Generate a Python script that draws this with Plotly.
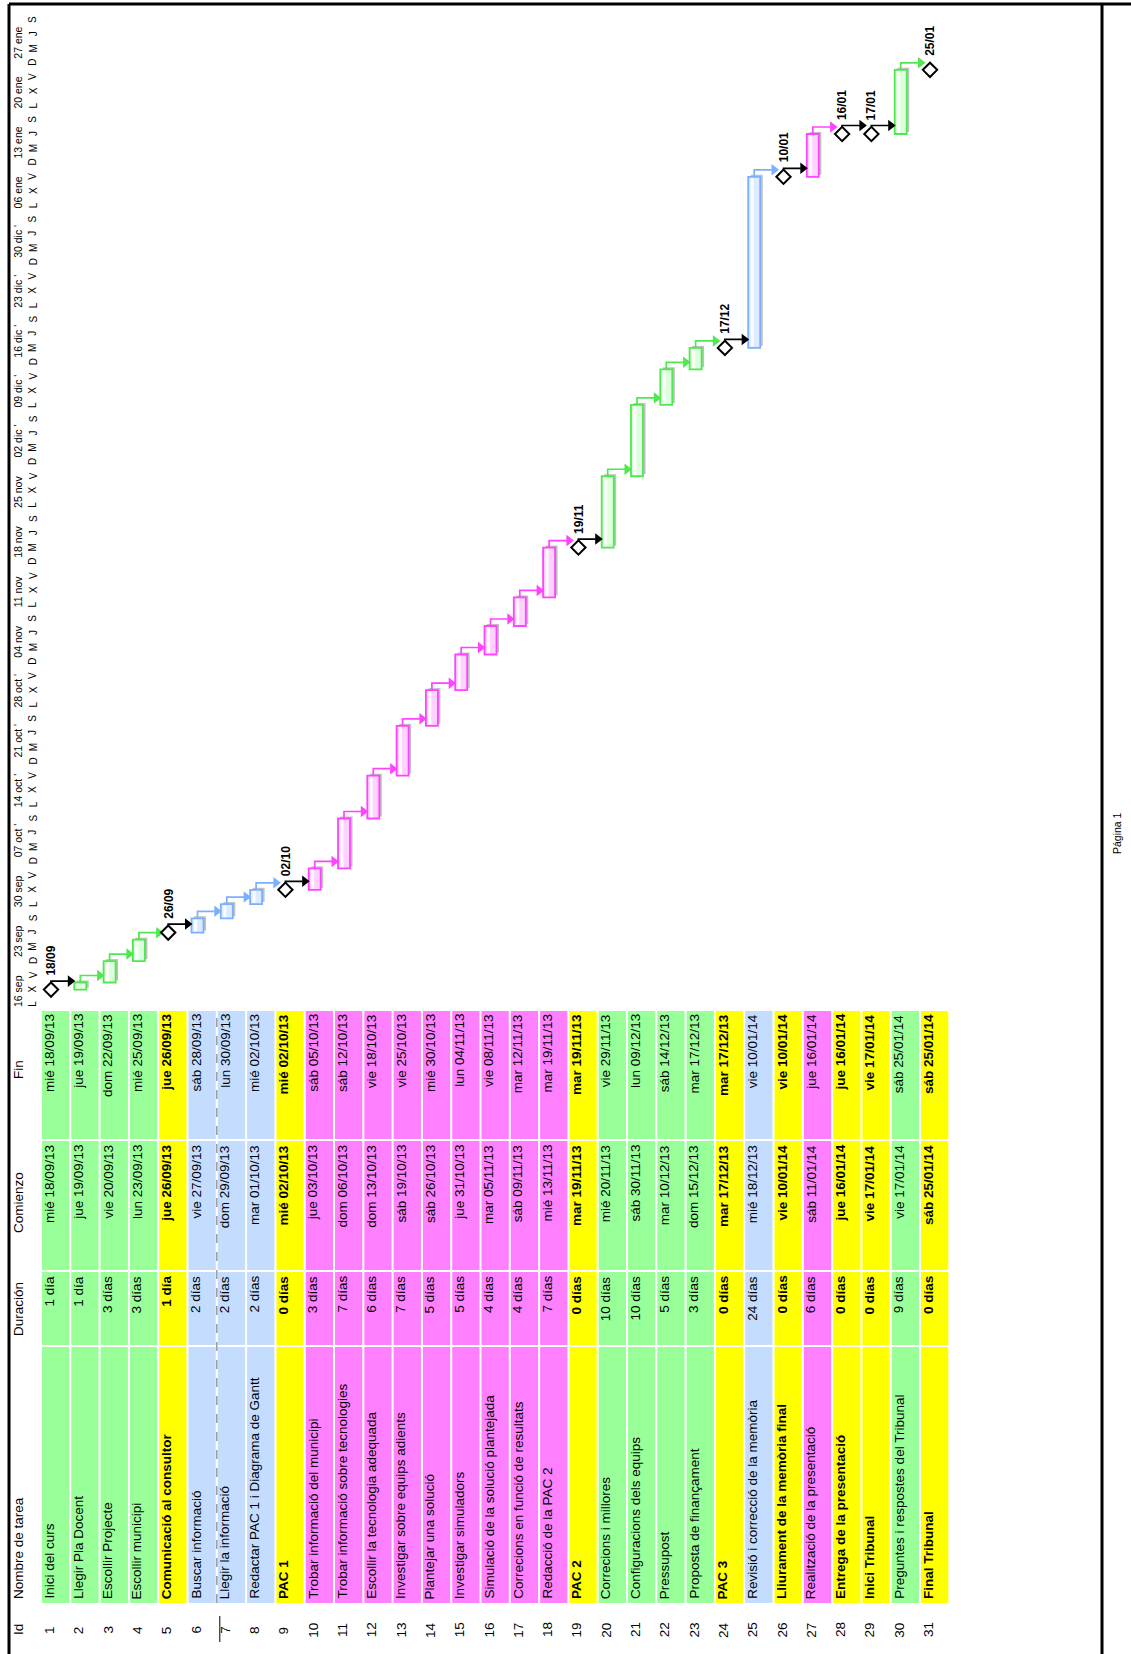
import pandas as pd
import plotly.graph_objects as go

# ---------------- project data ----------------
task_ids = list(range(1, 32))
task_names = [
    "Inici del curs", "Llegir Pla Docent", "Escollir Projecte", "Escollir municipi",
    "Comunicació al consultor", "Buscar informació", "Llegir la informació",
    "Redactar PAC 1 i Diagrama de Gantt", "PAC 1", "Trobar informació del municipi",
    "Trobar informació sobre tecnologies", "Escollir la tecnologia adequada",
    "Investigar sobre equips adients", "Plantejar una solució", "Investigar simuladors",
    "Simulació de la solució plantejada", "Correcions en funció de resultats",
    "Redacció de la PAC 2", "PAC 2", "Correcions i millores", "Configuracions dels equips",
    "Pressupost", "Proposta de finançament", "PAC 3", "Revisió i correcció de la memòria",
    "Lliurament de la memòria final", "Realització de la presentació",
    "Entrega de la presentació", "Inici Tribunal", "Preguntes i respostes del Tribunal",
    "Final Tribunal",
]
durations = [
    "1 día", "1 día", "3 días", "3 días", "1 día", "2 días", "2 días", "2 días", "0 días",
    "3 días", "7 días", "6 días", "7 días", "5 días", "5 días", "4 días", "4 días", "7 días",
    "0 días", "10 días", "10 días", "5 días", "3 días", "0 días", "24 días", "0 días",
    "6 días", "0 días", "0 días", "9 días", "0 días",
]
start_dates = [
    "2013-09-18", "2013-09-19", "2013-09-20", "2013-09-23", "2013-09-26", "2013-09-27",
    "2013-09-29", "2013-10-01", "2013-10-02", "2013-10-03", "2013-10-06", "2013-10-13",
    "2013-10-19", "2013-10-26", "2013-10-31", "2013-11-05", "2013-11-09", "2013-11-13",
    "2013-11-19", "2013-11-20", "2013-11-30", "2013-12-10", "2013-12-15", "2013-12-17",
    "2013-12-18", "2014-01-10", "2014-01-11", "2014-01-16", "2014-01-17", "2014-01-17",
    "2014-01-25",
]
end_dates = [
    "2013-09-18", "2013-09-19", "2013-09-22", "2013-09-25", "2013-09-26", "2013-09-28",
    "2013-09-30", "2013-10-02", "2013-10-02", "2013-10-05", "2013-10-12", "2013-10-18",
    "2013-10-25", "2013-10-30", "2013-11-04", "2013-11-08", "2013-11-12", "2013-11-19",
    "2013-11-19", "2013-11-29", "2013-12-09", "2013-12-14", "2013-12-17", "2013-12-17",
    "2014-01-10", "2014-01-10", "2014-01-16", "2014-01-16", "2014-01-17", "2014-01-25",
    "2014-01-25",
]
# table colour group of every row
row_groups = (["verde"] * 4 + ["hito"] + ["azul"] * 3 + ["hito"] + ["rosa"] * 9 + ["hito"]
              + ["verde"] * 4 + ["hito", "azul", "hito", "rosa", "hito", "hito", "verde", "hito"])
# rows drawn as milestones and the hour at which the milestone falls
milestone_rows = [1, 5, 9, 19, 24, 26, 28, 29, 31]
milestone_hours = [17, 17, 17, 17, 17, 17, 17, 8, 17]

week_labels = ["16 sep", "23 sep", "30 sep", "07 oct '", "14 oct '", "21 oct '", "28 oct '",
               "04 nov", "11 nov", "18 nov", "25 nov", "02 dic '", "09 dic '", "16 dic '",
               "23 dic '", "30 dic '", "06 ene", "13 ene", "20 ene", "27 ene"]
day_letters = ["L", "M", "X", "J", "V", "S", "D"]
weekday_names = ["lun", "mar", "mié", "jue", "vie", "sáb", "dom"]

header_labels = ["Id", "Nombre de tarea", "Duración", "Comienzo", "Fin"]

# ---------------- styling ----------------
table_fill = {"verde": "#99FF99", "hito": "#FFFF00", "azul": "#C4DDFF", "rosa": "#FF80FF"}
bar_stroke = {"verde": "#4FE84F", "azul": "#7CB0FF", "rosa": "#FF44FF"}
bar_tint = {"verde": "#DDFFDD", "azul": "#DDEBFF", "rosa": "#FFD2FF"}
FONT = "Liberation Sans, Arial, sans-serif"

W, H = 1131, 1654
ROW_PX = 29.3          # pixel pitch of a task row
DAY_PX = 7.13          # pixel length of one calendar day
ROW1_PX = 51.0         # pixel centre of row 1
T0 = pd.Timestamp("2013-09-16")
GANTT_TOP, GANTT_BOT = 5, 1011
LEFT, RIGHT = 9, 1102

x_lo = 1 + (LEFT - ROW1_PX) / ROW_PX
x_hi = 1 + (RIGHT - ROW1_PX) / ROW_PX
y_hi = (GANTT_BOT - GANTT_TOP) / DAY_PX


def xu(px):
    return 1 + (px - ROW1_PX) / ROW_PX


def yp(py):
    return 1 - py / H


def pos(date, hour=8):
    """Position on the time axis, in days from T0 (working day 8:00-17:00)."""
    return (pd.Timestamp(date) - T0).days + (hour - 8) / 9.0


def fmt(date):
    d = pd.Timestamp(date)
    return f"{weekday_names[d.weekday()]} {d.strftime('%d/%m/%y')}"


is_ms = {r: h for r, h in zip(milestone_rows, milestone_hours)}

fig = go.Figure()

# ---------------- gantt bars ----------------
BAR_W = 12 / ROW_PX
bx, bbase, blen, bfill, bline = [], [], [], [], []
for i in task_ids:
    if i in is_ms:
        continue
    g = row_groups[i - 1]
    s = pos(start_dates[i - 1], 8)
    e = pos(end_dates[i - 1], 17)
    bx.append(i)
    bbase.append(s)
    blen.append(e - s)
    bfill.append(bar_tint[g])
    bline.append(bar_stroke[g])

fig.add_trace(go.Bar(
    x=bx, y=blen, base=[b + 2 / DAY_PX for b in bbase], width=BAR_W,
    offset=-BAR_W / 2 + 2.5 / ROW_PX,
    marker=dict(color="rgba(140,140,140,0.55)", line=dict(width=0)),
    hoverinfo="skip", showlegend=False))
fig.add_trace(go.Bar(
    x=bx, y=blen, base=bbase, width=BAR_W, offset=-BAR_W / 2,
    marker=dict(color=bfill, line=dict(color=bline, width=1.8)),
    hoverinfo="skip", showlegend=False))
fig.add_trace(go.Bar(
    x=bx, y=[max(l - 2.5 / DAY_PX, 0) for l in blen],
    base=[b + 1.2 / DAY_PX for b in bbase], width=3 / ROW_PX,
    offset=-BAR_W / 2 + 2.5 / ROW_PX,
    marker=dict(color="rgba(255,255,255,0.85)", line=dict(width=0)),
    hoverinfo="skip", showlegend=False))

# ---------------- dependency links ----------------
def finish_of(i):
    if i in is_ms:
        return pos(end_dates[i - 1], is_ms[i])
    return pos(end_dates[i - 1], 17)


def left_edge(i):
    return i - (5.5 / ROW_PX if i in is_ms else BAR_W / 2)


link_lines = {}
arrow_x, arrow_y, arrow_c = [], [], []
for i in task_ids[:-1]:
    j = i + 1
    if i in is_ms:
        col = "#000000"
        y0 = finish_of(i) + 5.5 / DAY_PX
        ylink = finish_of(i) + 8.5 / DAY_PX
    else:
        col = bar_stroke[row_groups[i - 1]]
        y0 = finish_of(i)
        ylink = finish_of(i) + 7 / DAY_PX
    tip = left_edge(j)
    xs, ys = link_lines.setdefault(col, ([], []))
    xs += [i, i, tip - 6 / ROW_PX, None]
    ys += [y0, ylink, ylink, None]
    arrow_x.append(tip - 4 / ROW_PX)
    arrow_y.append(ylink)
    arrow_c.append(col)

for col, (xs, ys) in link_lines.items():
    fig.add_trace(go.Scatter(x=xs, y=ys, mode="lines", line=dict(color=col, width=1.7),
                             hoverinfo="skip", showlegend=False))
fig.add_trace(go.Scatter(x=arrow_x, y=arrow_y, mode="markers",
                         marker=dict(symbol="triangle-right", size=10, color=arrow_c,
                                     line=dict(width=0)),
                         hoverinfo="skip", showlegend=False))

# ---------------- milestones ----------------
ms_x = milestone_rows
ms_y = [pos(end_dates[r - 1], h) for r, h in zip(milestone_rows, milestone_hours)]
fig.add_trace(go.Scatter(x=ms_x, y=ms_y, mode="markers",
                         marker=dict(symbol="diamond", size=11, color="white",
                                     line=dict(color="black", width=2)),
                         hoverinfo="skip", showlegend=False))

annotations = []
for r, y in zip(ms_x, ms_y):
    d = pd.Timestamp(end_dates[r - 1])
    annotations.append(dict(
        x=r, y=y, xref="x", yref="y", text=f"<b>{d.strftime('%d/%m')}</b>",
        showarrow=False, textangle=-90, xanchor="center", yanchor="bottom", yshift=12,
        font=dict(family=FONT, size=12, color="black")))

# ---------------- timescale header ----------------
for w, lab in enumerate(week_labels):
    annotations.append(dict(
        x=xu(18), y=7 * w, xref="x", yref="y", text=lab, showarrow=False,
        textangle=-90, xanchor="center", yanchor="bottom", yshift=2,
        font=dict(family=FONT, size=10.5, color="black")))
for k in range(0, 7 * len(week_labels), 2):
    annotations.append(dict(
        x=xu(33), y=k + 1, xref="x", yref="y", text=day_letters[k % 7], showarrow=False,
        textangle=-90, xanchor="center", yanchor="middle",
        font=dict(family=FONT, size=10, color="black")))

# ---------------- task table ----------------
col_spans = {"fin": (1011, 1139), "com": (1141, 1270), "dur": (1272, 1345), "nom": (1347, 1603)}
shapes = []
for i in task_ids:
    g = row_groups[i - 1]
    for c0, c1 in col_spans.values():
        shapes.append(dict(type="rect", xref="x", yref="paper",
                           x0=i - 9 / ROW_PX, x1=i + 18.3 / ROW_PX, y0=yp(c1), y1=yp(c0),
                           fillcolor=table_fill[g], line=dict(width=0), layer="below"))

TXT = 13.5
for i in task_ids:
    bold = row_groups[i - 1] == "hito"

    def t(s):
        return f"<b>{s}</b>" if bold else s

    common = dict(x=i, xref="x", yref="paper", showarrow=False, textangle=-90,
                  xanchor="center", xshift=-2, font=dict(family=FONT, size=TXT, color="black"))
    annotations.append(dict(common, y=yp(1630), yanchor="middle", text=str(task_ids[i - 1])))
    annotations.append(dict(common, y=yp(1601), yanchor="bottom", text=t(task_names[i - 1])))
    annotations.append(dict(common, y=yp(1274), yanchor="top", text=t(durations[i - 1])))
    annotations.append(dict(common, y=yp(1143), yanchor="top", text=t(fmt(start_dates[i - 1]))))
    annotations.append(dict(common, y=yp(1012), yanchor="top", text=t(fmt(end_dates[i - 1]))))

hdr_y = {"Id": (1630, "middle"), "Nombre de tarea": (1601, "bottom"),
         "Duración": (1309, "middle"), "Comienzo": (1203, "middle"), "Fin": (1070, "middle")}
for lab in header_labels:
    py, anc = hdr_y[lab]
    annotations.append(dict(x=xu(18), y=yp(py), xref="x", yref="paper", text=lab,
                            showarrow=False, textangle=-90, xanchor="center", yanchor=anc,
                            font=dict(family=FONT, size=TXT, color="black")))

# selected-row marker on row 7
shapes.append(dict(type="line", xref="x", yref="paper", x0=7 - 10 / ROW_PX, x1=7 - 10 / ROW_PX,
                   y0=yp(1603), y1=yp(1011), line=dict(color="#9A9A9A", width=1.5, dash="dash")))
shapes.append(dict(type="line", xref="x", yref="paper", x0=7 - 7 / ROW_PX, x1=7 - 7 / ROW_PX,
                   y0=yp(1642), y1=yp(1616), line=dict(color="black", width=1)))

# page frame
frame = dict(color="black", width=3)
shapes.append(dict(type="line", xref="paper", yref="paper", x0=LEFT / W, x1=LEFT / W,
                   y0=0, y1=yp(4), line=frame))
shapes.append(dict(type="line", xref="paper", yref="paper", x0=LEFT / W, x1=1,
                   y0=yp(4), y1=yp(4), line=frame))
shapes.append(dict(type="line", xref="paper", yref="paper", x0=RIGHT / W, x1=RIGHT / W,
                   y0=0, y1=yp(4), line=frame))

annotations.append(dict(x=1117 / W, y=yp(833), xref="paper", yref="paper", text="Página 1",
                        showarrow=False, textangle=-90, xanchor="center", yanchor="middle",
                        font=dict(family=FONT, size=10.5, color="black")))

fig.update_layout(
    width=W, height=H, margin=dict(l=0, r=0, t=0, b=0),
    paper_bgcolor="white", plot_bgcolor="white", barmode="overlay",
    showlegend=False, shapes=shapes, annotations=annotations,
    xaxis=dict(range=[x_lo, x_hi], domain=[LEFT / W, RIGHT / W], visible=False,
               fixedrange=True),
    yaxis=dict(range=[0, y_hi], domain=[yp(GANTT_BOT), yp(GANTT_TOP)], visible=False,
               fixedrange=True),
)

fig.write_html("out.html")
